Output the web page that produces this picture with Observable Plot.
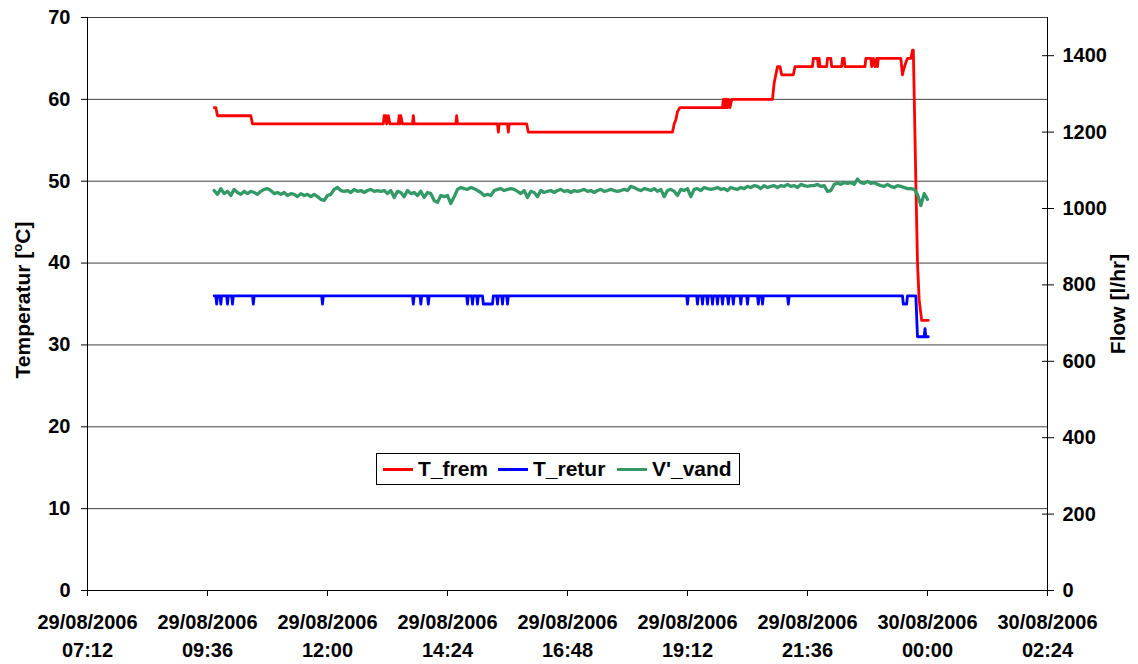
<!DOCTYPE html>
<html>
<head>
<meta charset="utf-8">
<script src="https://cdn.jsdelivr.net/npm/d3@7"></script>
<script src="https://cdn.jsdelivr.net/npm/@observablehq/plot@0.6"></script>
<style>
  body { margin: 0; background: #fff; font-family: "Liberation Sans", Arial, sans-serif; }
  #wrap { position: relative; width: 1138px; height: 664px; }
  .axis-title { position: absolute; font-weight: bold; font-size: 21px; white-space: nowrap; color: #000;
                transform: translate(-50%, -50%) rotate(-90deg); }
  .axis-title sup { font-size: 13px; vertical-align: 8px; line-height: 0; }
  #legend { position: absolute; left: 376px; top: 453px; width: 362px; height: 30px;
            border: 1px solid #000; background: #fff; }
  #legend .sw { position: absolute; top: 14px; width: 30px; height: 3px; }
  #legend .lb { position: absolute; top: 3px; font-weight: bold; font-size: 21px; line-height: 24px; white-space: nowrap; }
</style>
</head>
<body>
<div id="wrap"></div>
<script>
// Supply temperature T_frem [°C]: [clock time, value]
const tFrem = [
  ["09:44",59],["09:46",59],["09:48",58],["10:28",58],["10:30",57],
  ["13:07",57],["13:08",58],["13:10",58],["13:11",57],["13:13",58],["13:15",57],
  ["13:25",57],["13:26",58],["13:27",57],["13:28",58],["13:30",57],
  ["13:42",57],["13:43",58],["13:44",57],
  ["14:34",57],["14:35",58],["14:36",57],
  ["15:24",57],["15:25",56],["15:26",57],["15:36",57],["15:37",56],["15:38",57],
  ["15:59",57],["16:01",56],
  ["18:54",56],["18:56",57],["18:58",57.5],["19:00",58.5],["19:03",59],
  ["19:54",59],["19:55",60],["19:56",59],["19:57",60],["19:58",59],["19:59",60],
  ["20:00",59],["20:01",60],["20:03",59],["20:05",60],
  ["20:54",60],["20:56",62],["20:58",63],["21:00",64],["21:03",64],["21:05",63],
  ["21:19",63],["21:21",64],
  ["21:42",64],["21:43",65],["21:48",65],["21:49",64],["21:50",65],["21:51",64],
  ["21:59",64],["22:00",65],["22:04",65],["22:05",64],
  ["22:17",64],["22:18",65],["22:20",65],["22:21",64],
  ["22:45",64],["22:46",65],["22:52",65],["22:53",64],["22:55",65],["22:57",64],
  ["22:59",65],["23:00",64],["23:01",65],
  ["23:28",65],["23:30",63],["23:31",63.5],["23:34",64.5],["23:36",65],["23:40",65],
  ["23:42",66],["23:43",66],["23:46",50],["23:48",40],["23:50",35.5],["23:53",33],["00:01",33]
];

// Return temperature T_retur [°C]: [clock time, value]
const tRetur = [
  ["09:44",36],["09:46",36],["09:47",35],["09:48",36],
  ["09:51",36],["09:52",35],["09:53",36],
  ["09:59",36],["10:00",35],["10:01",36],
  ["10:05",36],["10:06",35],["10:07",36],
  ["10:30",36],["10:31",35],["10:32",36],
  ["11:53",36],["11:54",35],["11:55",36],
  ["13:42",36],["13:43",35],["13:44",36],
  ["13:51",36],["13:52",35],["13:53",36],
  ["14:00",36],["14:01",35],["14:02",36],
  ["14:47",36],["14:48",35],["14:49",36],
  ["14:53",36],["14:54",35],["14:55",36],
  ["14:59",36],["15:00",35],["15:01",36],
  ["15:06",36],["15:07",35],["15:18",35],["15:19",36],
  ["15:23",36],["15:24",35],["15:25",36],
  ["15:29",36],["15:30",35],["15:31",36],
  ["15:35",36],["15:36",35],["15:37",36],
  ["19:11",36],["19:12",35],["19:13",36],
  ["19:23",36],["19:24",35],["19:25",36],
  ["19:29",36],["19:30",35],["19:31",36],
  ["19:35",36],["19:36",35],["19:37",36],
  ["19:41",36],["19:42",35],["19:43",36],
  ["19:47",36],["19:48",35],["19:49",36],
  ["19:53",36],["19:54",35],["19:55",36],
  ["20:00",36],["20:01",35],["20:02",36],
  ["20:06",36],["20:07",35],["20:08",36],
  ["20:15",36],["20:16",35],["20:17",36],
  ["20:23",36],["20:24",35],["20:25",36],
  ["20:36",36],["20:37",35],["20:38",36],
  ["20:41",36],["20:42",35],["20:43",36],
  ["21:12",36],["21:13",35],["21:14",36],
  ["23:30",36],["23:31",35],["23:35",35],["23:36",36],
  ["23:46",36],["23:48",31],["23:56",31],["23:57",32],["23:58",31],["00:01",31]
];

// Water flow V'_vand [l/hr], logged every 4 minutes from 09:44
const flowStart = "09:44";
const flowStepMinutes = 4;
const flowValues = [
  1047,1037,1052,1039,1045,1034,1050,1042,1037,1045,
  1039,1045,1042,1037,1045,1050,1052,1047,1039,1042,
  1037,1042,1034,1039,1037,1031,1039,1034,1037,1031,
  1037,1031,1024,1021,1034,1037,1050,1055,1047,1045,
  1047,1042,1050,1045,1047,1042,1047,1050,1045,1047,
  1045,1047,1039,1047,1029,1045,1042,1031,1047,1039,
  1042,1034,1045,1029,1042,1039,1021,1016,1034,1031,
  1034,1013,1031,1050,1055,1052,1050,1055,1052,1047,
  1042,1034,1037,1034,1047,1050,1052,1047,1050,1052,
  1050,1045,1039,1047,1029,1045,1042,1031,1047,1042,
  1045,1047,1042,1047,1050,1045,1047,1042,1047,1045,
  1047,1050,1045,1047,1042,1047,1050,1045,1047,1050,
  1047,1045,1047,1050,1047,1058,1055,1050,1047,1052,
  1050,1047,1052,1045,1050,1031,1047,1050,1045,1034,
  1050,1047,1052,1031,1050,1052,1047,1055,1052,1050,
  1052,1055,1050,1052,1047,1055,1052,1050,1055,1052,
  1058,1055,1060,1058,1052,1060,1055,1058,1060,1055,
  1060,1058,1063,1058,1060,1055,1063,1060,1058,1060,
  1060,1063,1058,1060,1045,1047,1063,1066,1063,1068,
  1066,1068,1063,1077,1068,1066,1071,1066,1068,1063,
  1060,1058,1063,1058,1055,1060,1058,1055,1052,1052,
  1050,1037,1008,1039,1024
];

// Axis ticks
const xTickLabels = [
  "29/08/2006 07:12","29/08/2006 09:36","29/08/2006 12:00","29/08/2006 14:24",
  "29/08/2006 16:48","29/08/2006 19:12","29/08/2006 21:36","30/08/2006 00:00","30/08/2006 02:24"
];
const tempTicks = [0, 10, 20, 30, 40, 50, 60, 70];
const flowTicks = [0, 200, 400, 600, 800, 1000, 1200, 1400];
const tempMax = 70;
const flowMax = 1500;

// Series names and colours
const seriesNames = ["T_frem", "T_retur", "V'_vand"];
const seriesColors = ["#ff0000", "#0000ff", "#339966"];

// Helpers: clock times before 07:00 fall on the following day
function clock(hm) {
  const [h, m] = hm.split(":").map(Number);
  return new Date(Date.UTC(2006, 7, h < 7 ? 30 : 29, h, m));
}
function stamp(s) {
  const [d, hm] = s.split(" ");
  const [dd, mm, yy] = d.split("/").map(Number);
  const [h, m] = hm.split(":").map(Number);
  return new Date(Date.UTC(yy, mm - 1, dd, h, m));
}
const toTemp = f => f * tempMax / flowMax;

const fremData = tFrem.map(([t, v]) => ({t: clock(t), v}));
const returData = tRetur.map(([t, v]) => ({t: clock(t), v}));
const t0 = clock(flowStart);
const flowData = flowValues.map((f, i) => ({t: new Date(+t0 + i * flowStepMinutes * 60000), f}));

const xTicks = xTickLabels.map(stamp);
const xDomain = [xTicks[0], xTicks[xTicks.length - 1]];
const fmt = d3.utcFormat("%d/%m/%Y\n%H:%M");

const chart = Plot.plot({
  width: 1138,
  height: 664,
  marginLeft: 87,
  marginRight: 91,
  marginTop: 17,
  marginBottom: 74,
  style: {fontFamily: "'Liberation Sans', Arial, sans-serif", fontSize: "20px", fontWeight: "bold", color: "#000", background: "#fff", overflow: "visible"},
  x: {type: "utc", domain: xDomain, label: null},
  y: {domain: [0, tempMax], label: null},
  marks: [
    Plot.gridY(tempTicks.filter(d => d > 0), {stroke: "#000", strokeOpacity: 0.75, strokeWidth: 1}),
    Plot.ruleY([0], {stroke: "#000"}),
    Plot.ruleX(xDomain, {stroke: "#000"}),
    Plot.axisY({anchor: "left", ticks: tempTicks, tickSize: 6, tickPadding: 11, label: null}),
    Plot.axisY({anchor: "right", ticks: flowTicks.map(toTemp), tickFormat: d => String(Math.round(d * flowMax / tempMax)),
                tickSize: 12, dx: -6, tickPadding: 9, label: null}),
    Plot.axisX({ticks: xTicks, tickFormat: fmt, tickSize: 6, tickPadding: 13, lineHeight: 1.4, label: null}),
    Plot.line(fremData, {x: "t", y: "v", stroke: seriesColors[0], strokeWidth: 2.8, strokeLinejoin: "round"}),
    Plot.line(returData, {x: "t", y: "v", stroke: seriesColors[1], strokeWidth: 2.8, strokeLinejoin: "round"}),
    Plot.line(flowData, {x: "t", y: d => toTemp(d.f), stroke: seriesColors[2], strokeWidth: 3.3, strokeLinejoin: "round"})
  ]
});

const wrap = document.getElementById("wrap");
wrap.appendChild(chart);

// Axis titles
const leftTitle = document.createElement("div");
leftTitle.className = "axis-title";
leftTitle.style.left = "23px";
leftTitle.style.top = "300px";
leftTitle.innerHTML = "Temperatur [<sup>o</sup>C]";
wrap.appendChild(leftTitle);

const rightTitle = document.createElement("div");
rightTitle.className = "axis-title";
rightTitle.style.left = "1118px";
rightTitle.style.top = "304px";
rightTitle.textContent = "Flow [l/hr]";
wrap.appendChild(rightTitle);

// Legend
const legend = document.createElement("div");
legend.id = "legend";
const swatchLeft = [6, 121, 240];
const labelLeft = [41, 156, 275];
seriesNames.forEach((name, i) => {
  const sw = document.createElement("span");
  sw.className = "sw";
  sw.style.left = swatchLeft[i] + "px";
  sw.style.background = seriesColors[i];
  legend.appendChild(sw);
  const lb = document.createElement("span");
  lb.className = "lb";
  lb.style.left = labelLeft[i] + "px";
  lb.textContent = name;
  legend.appendChild(lb);
});
wrap.appendChild(legend);
</script>
</body>
</html>
